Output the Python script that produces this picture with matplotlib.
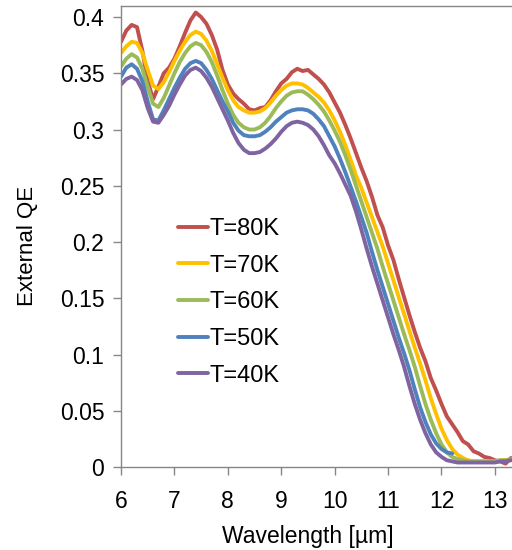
# external QE vs wavelength for several temperatures
import numpy as np
import matplotlib
matplotlib.use('Agg')
from matplotlib import pyplot as plt

plt.rcParams['font.family'] = ['Liberation Sans', 'DejaVu Sans']

# wavelength grid [um]
wl = [6.0, 6.1, 6.2, 6.3, 6.4, 6.5, 6.6, 6.7, 6.8, 6.9,
      7.0, 7.1, 7.2, 7.3, 7.4, 7.5, 7.6, 7.7, 7.8, 7.9,
      8.0, 8.1, 8.2, 8.3, 8.4, 8.5, 8.6, 8.7, 8.8, 8.9,
      9.0, 9.1, 9.2, 9.3, 9.4, 9.5, 9.6, 9.7, 9.8, 9.9,
      10.0, 10.1, 10.2, 10.3, 10.4, 10.5, 10.6, 10.7, 10.8, 10.9,
      11.0, 11.1, 11.2, 11.3, 11.4, 11.5, 11.6, 11.7, 11.8, 11.9,
      12.0, 12.1, 12.2, 12.3, 12.4, 12.5, 12.6, 12.7, 12.8, 12.9,
      13.0, 13.1, 13.2, 13.3]

qe_80 = [0.378, 0.388, 0.393, 0.391, 0.370, 0.343, 0.327, 0.338, 0.350, 0.355,
         0.363, 0.374, 0.386, 0.397, 0.404, 0.400, 0.394, 0.384, 0.371, 0.353,
         0.340, 0.332, 0.327, 0.323, 0.318, 0.317, 0.319, 0.320, 0.326, 0.334,
         0.341, 0.345, 0.351, 0.354, 0.352, 0.353, 0.349, 0.345, 0.340, 0.333,
         0.324, 0.315, 0.304, 0.292, 0.279, 0.266, 0.254, 0.240, 0.224, 0.213,
         0.197, 0.184, 0.167, 0.151, 0.135, 0.120, 0.106, 0.094, 0.079, 0.068,
         0.056, 0.045, 0.038, 0.031, 0.023, 0.020, 0.014, 0.012, 0.009, 0.008,
         0.006, 0.005, 0.003, 0.008]

qe_70 = [0.368, 0.374, 0.378, 0.377, 0.368, 0.353, 0.339, 0.336, 0.342, 0.351,
         0.361, 0.370, 0.378, 0.384, 0.387, 0.385, 0.379, 0.370, 0.358, 0.346,
         0.335, 0.326, 0.320, 0.317, 0.315, 0.315, 0.316, 0.319, 0.324, 0.330,
         0.335, 0.339, 0.341, 0.341, 0.340, 0.337, 0.333, 0.329, 0.324, 0.317,
         0.308, 0.298, 0.286, 0.273, 0.259, 0.248, 0.235, 0.222, 0.209, 0.196,
         0.181, 0.166, 0.151, 0.136, 0.121, 0.106, 0.092, 0.077, 0.061, 0.047,
         0.034, 0.024, 0.016, 0.011, 0.008, 0.006, 0.005, 0.005, 0.005, 0.005,
         0.005, 0.006, 0.006, 0.006]

qe_60 = [0.356, 0.363, 0.367, 0.364, 0.354, 0.338, 0.323, 0.320, 0.328, 0.339,
         0.350, 0.360, 0.368, 0.374, 0.377, 0.375, 0.369, 0.360, 0.348, 0.335,
         0.323, 0.313, 0.306, 0.302, 0.300, 0.300, 0.302, 0.306, 0.312, 0.319,
         0.325, 0.330, 0.333, 0.334, 0.334, 0.331, 0.327, 0.322, 0.316, 0.308,
         0.299, 0.289, 0.277, 0.264, 0.250, 0.236, 0.222, 0.208, 0.194, 0.178,
         0.163, 0.148, 0.133, 0.118, 0.104, 0.089, 0.072, 0.056, 0.042, 0.030,
         0.020, 0.013, 0.009, 0.007, 0.006, 0.005, 0.005, 0.005, 0.005, 0.005,
         0.005, 0.006, 0.006, 0.007]

# 50K data stops at 12.2 um
qe_50 = [0.347, 0.355, 0.358, 0.354, 0.343, 0.325, 0.309, 0.308, 0.317, 0.327,
         0.337, 0.346, 0.354, 0.359, 0.361, 0.359, 0.353, 0.345, 0.335, 0.325,
         0.316, 0.306, 0.299, 0.295, 0.294, 0.294, 0.295, 0.298, 0.302, 0.307,
         0.311, 0.315, 0.317, 0.318, 0.318, 0.317, 0.314, 0.309, 0.303, 0.294,
         0.285, 0.274, 0.262, 0.249, 0.236, 0.222, 0.208, 0.191, 0.175, 0.160,
         0.145, 0.130, 0.115, 0.101, 0.086, 0.069, 0.053, 0.040, 0.029, 0.021,
         0.016, 0.013, 0.012]

qe_40 = [0.340, 0.345, 0.347, 0.344, 0.335, 0.319, 0.307, 0.306, 0.313, 0.321,
         0.331, 0.340, 0.348, 0.353, 0.355, 0.352, 0.346, 0.338, 0.328, 0.318,
         0.308, 0.297, 0.288, 0.282, 0.279, 0.279, 0.280, 0.283, 0.287, 0.292,
         0.298, 0.303, 0.306, 0.307, 0.306, 0.304, 0.300, 0.294, 0.286, 0.277,
         0.270, 0.261, 0.251, 0.241, 0.227, 0.211, 0.194, 0.178, 0.163, 0.148,
         0.133, 0.118, 0.104, 0.089, 0.072, 0.056, 0.042, 0.030, 0.020, 0.013,
         0.009, 0.006, 0.005, 0.004, 0.004, 0.004, 0.004, 0.004, 0.004, 0.004,
         0.004, 0.005, 0.005, 0.006]

labels = ['T=80K', 'T=70K', 'T=60K', 'T=50K', 'T=40K']
colors = ['#C0504D', '#FFC000', '#9BBB59', '#4F81BD', '#8064A2']
series = [qe_80, qe_70, qe_60, qe_50, qe_40]

yticks = [0, 0.05, 0.1, 0.15, 0.2, 0.25, 0.3, 0.35, 0.4]
ytick_labels = ['0', '0.05', '0.1', '0.15', '0.2', '0.25', '0.3', '0.35', '0.4']
xticks = [6, 7, 8, 9, 10, 11, 12, 13]

fig = plt.figure(figsize=(5.12, 5.5), dpi=100)
ax = fig.add_axes([121/512, 1 - 467/550, (512 - 121)/512, 461/550])

for y, lab, col in zip(series, labels, colors):
    ax.plot(wl[:len(y)], y, color=col, lw=2.8, label=lab, solid_capstyle='round')

ax.set_xlim(6, 13.32)
ax.set_ylim(0, 0.4098)
ax.set_xticks(xticks)
ax.set_yticks(yticks)
ax.set_yticklabels(ytick_labels)

gray = '#868686'
for s in ['left', 'bottom', 'top']:
    ax.spines[s].set_color(gray)
    ax.spines[s].set_linewidth(1.0)
ax.spines['right'].set_visible(False)
ax.tick_params(axis='both', which='major', direction='out', length=6, width=1.0,
               color=gray, labelsize=16.5, labelcolor='black')
ax.tick_params(axis='x', pad=10.5)
ax.tick_params(axis='y', pad=6)

ax.set_xlabel('Wavelength [µm]', fontsize=16.5)
ax.set_ylabel('External QE', fontsize=16)
ax.xaxis.set_label_coords(0.478, -0.125)
ax.yaxis.set_label_coords(-0.212, 0.479)

ax.legend(loc='upper left', bbox_to_anchor=(178/512, 1 - 218/550),
          bbox_transform=fig.transFigure, frameon=False, fontsize=17,
          handlelength=1.27, handletextpad=0.08, labelspacing=0.62,
          borderpad=0, borderaxespad=0)

fig.savefig('out.png', dpi=100)
